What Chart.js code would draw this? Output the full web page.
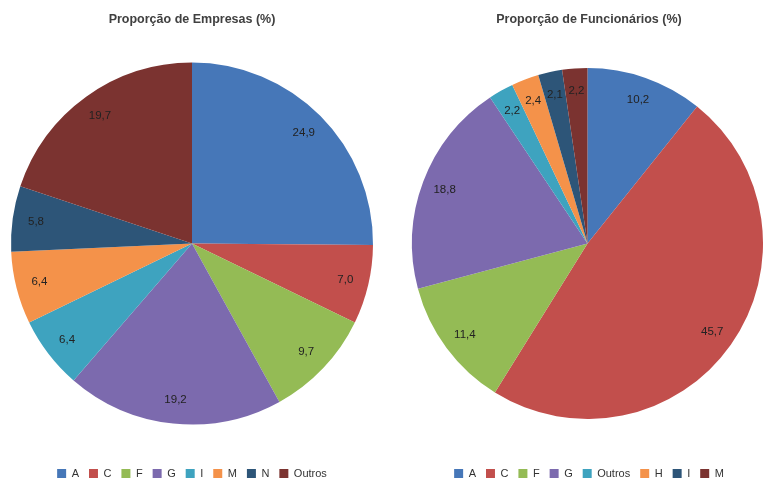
<!DOCTYPE html>
<html>
<head>
<meta charset="utf-8">
<script src="https://cdn.jsdelivr.net/npm/chart.js@4"></script>
<style>
  html, body { margin: 0; padding: 0; background: #fff; }
  .wrap { position: absolute; top: 0; height: 481px; }
  #boxEmpresas { left: 0; width: 382px; }
  #boxFuncionarios { left: 382px; width: 381px; }
</style>
</head>
<body>
<div class="wrap" id="boxEmpresas"><canvas id="chartEmpresas"></canvas></div>
<div class="wrap" id="boxFuncionarios"><canvas id="chartFuncionarios"></canvas></div>
<script>
// Proporção de Empresas (%)
const setoresEmpresas = ['A', 'C', 'F', 'G', 'I', 'M', 'N', 'Outros']
const valoresEmpresas = [24.9, 7.0, 9.7, 19.2, 6.4, 6.4, 5.8, 19.7]
const coresEmpresas = ['#4677b8', '#c24f4c', '#94bb55', '#7c6aae', '#3ea3bf', '#f4924a', '#2d5578', '#7b3330']

// Proporção de Funcionários (%)
const setoresFuncionarios = ['A', 'C', 'F', 'G', 'Outros', 'H', 'I', 'M']
const valoresFuncionarios = [10.2, 45.7, 11.4, 18.8, 2.2, 2.4, 2.1, 2.2]
const coresFuncionarios = ['#4677b8', '#c24f4c', '#94bb55', '#7c6aae', '#3ea3bf', '#f4924a', '#2d5578', '#7b3330']

// rótulos de valor dentro das fatias (vírgula decimal)
const rotulosValor = {
  id: 'rotulosValor',
  afterDatasetsDraw(chart) {
    const ctx = chart.ctx
    const meta = chart.getDatasetMeta(0)
    const valores = chart.data.datasets[0].data
    ctx.save()
    ctx.font = '11.5px "Liberation Sans", Arial, sans-serif'
    ctx.fillStyle = '#222'
    ctx.textAlign = 'center'
    ctx.textBaseline = 'middle'
    meta.data.forEach((arc, i) => {
      const p = arc.getProps(['x', 'y', 'startAngle', 'endAngle', 'outerRadius'], true)
      const meio = (p.startAngle + p.endAngle) / 2
      const r = p.outerRadius * 0.87
      ctx.fillText(valores[i].toFixed(1).replace('.', ','), p.x + Math.cos(meio) * r, p.y + Math.sin(meio) * r)
    })
    ctx.restore()
  }
}

function opcoes(titulo, padding) {
  return {
    responsive: true,
    maintainAspectRatio: false,
    animation: false,
    layout: { padding: padding },
    plugins: {
      title: {
        display: true,
        text: titulo,
        color: '#404040',
        font: { family: '"Liberation Sans", Arial, sans-serif', size: 12.5, weight: 'bold' },
        padding: { top: 12, bottom: 2 }
      },
      legend: {
        position: 'bottom',
        labels: {
          color: '#333',
          boxWidth: 9,
          boxHeight: 9,
          padding: 10,
          font: { family: '"Liberation Sans", Arial, sans-serif', size: 11 }
        }
      },
      tooltip: { enabled: false }
    }
  }
}

new Chart(document.getElementById('chartEmpresas'), {
  type: 'pie',
  data: {
    labels: setoresEmpresas,
    datasets: [{
      label: 'Proporção de Empresas (%)',
      data: valoresEmpresas,
      backgroundColor: coresEmpresas,
      borderWidth: 0
    }]
  },
  options: opcoes('Proporção de Empresas (%)', { left: 11, right: 9, top: 0, bottom: -8 }),
  plugins: [rotulosValor]
});

new Chart(document.getElementById('chartFuncionarios'), {
  type: 'pie',
  data: {
    labels: setoresFuncionarios,
    datasets: [{
      label: 'Proporção de Funcionários (%)',
      data: valoresFuncionarios,
      backgroundColor: coresFuncionarios,
      borderWidth: 0
    }]
  },
  options: opcoes('Proporção de Funcionários (%)', { left: 30, right: -3, top: 0, bottom: -8 }),
  plugins: [rotulosValor]
});
</script>
</body>
</html>
